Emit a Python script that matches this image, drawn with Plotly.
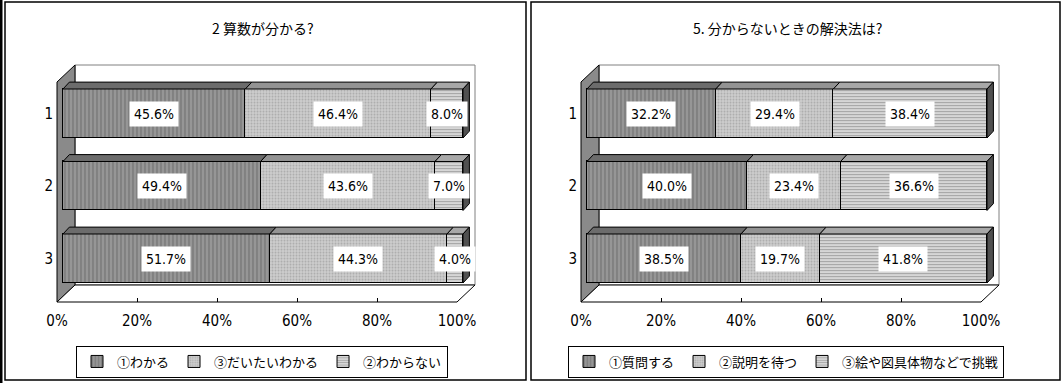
import plotly.graph_objects as go

# ---------------- data ----------------
categories = ["1", "2", "3"]

left_title = "2 算数が分かる?"
left_names = ["①わかる", "③だいたいわかる", "②わからない"]
left_wakaru = [45.6, 49.4, 51.7]
left_daitai = [46.4, 43.6, 44.3]
left_wakaranai = [8.0, 7.0, 4.0]

right_title = "5. 分からないときの解決法は?"
right_names = ["①質問する", "②説明を待つ", "③絵や図具体物などで挑戦"]
right_shitsumon = [32.2, 40.0, 38.5]
right_setsumei = [29.4, 23.4, 19.7]
right_e = [38.4, 36.6, 41.8]

tick_vals = [0, 20, 40, 60, 80, 100]
tick_text = ["0%", "20%", "40%", "60%", "80%", "100%"]

# ---------------- styling ----------------
W, H = 1064, 383
JP = "Noto Sans CJK JP"
NUM = "Liberation Sans Narrow, DejaVu Sans Condensed, Roboto Condensed, Liberation Sans, Noto Sans CJK JP"

styles = [
    dict(bg="#969696", fg="#5a5a5a", shape="|", size=4, sol=0.35, top="#6c6c6c"),
    dict(bg="#cdcdcd", fg="#8a8a8a", shape=".", size=3, sol=0.35, top="#939393"),
    dict(bg="#d6d6d6", fg="#707070", shape="-", size=3, sol=0.35, top="#a8a8a8"),
]
side_color = "#505050"

def px(x):
    return x / W

def py(y):
    return 1 - y / H

Y_RANGE = [3.75, 0.25]
y_dom = [py(77.25 + (3.75 - 0.5) * 72.5), py(77.25 - (0.5 - 0.25) * 72.5)]
BAR_W = 0.676
DX, DY = 1.6, 0.095
X_RANGE = [-2, 104]

fig = go.Figure()

panels = [
    dict(xa="x", ya="y", xt="x3", yt="y3", x0=63, legend="legend",
         title=left_title, names=left_names,
         series=[left_wakaru, left_daitai, left_wakaranai], cx=263),
    dict(xa="x2", ya="y2", xt="x4", yt="y4", x0=587, legend="legend2",
         title=right_title, names=right_names,
         series=[right_shitsumon, right_setsumei, right_e], cx=787),
]

shapes = []
annotations = []
ycat = [1, 2, 3]

for p in panels:
    xa, ya = p["xa"], p["ya"]
    left_px = p["x0"] + X_RANGE[0] * 4
    right_px = p["x0"] + X_RANGE[1] * 4
    sfx = xa[1:]
    fig.update_layout(**{
        f"xaxis{sfx}": dict(domain=[px(left_px), px(right_px)], range=X_RANGE,
                            visible=False, anchor=ya, fixedrange=True),
        f"yaxis{sfx}": dict(domain=y_dom, range=Y_RANGE, anchor=xa,
                            tickvals=ycat, ticktext=categories,
                            showgrid=False, zeroline=False, showline=False,
                            ticks="", tickfont=dict(family=NUM, size=15, color="black"),
                            ticklabelstandoff=1, fixedrange=True, automargin=False),
    })

    def dxp(pxv):
        return (pxv - p["x0"]) / 4.0

    def dyp(pyv):
        return 0.5 + (pyv - 77.25) / 72.5

    fx0, fx1 = dxp(p["x0"] - 6), dxp(p["x0"] + 394)
    bx0, bx1 = dxp(p["x0"] + 12), dxp(p["x0"] + 412)
    t_front, t_back = dyp(82), dyp(65)
    b_front, b_back = dyp(302), dyp(285)
    shapes.append(dict(type="rect", xref=xa, yref=ya, x0=bx0, x1=bx1, y0=t_back, y1=b_back,
                       fillcolor="white", line=dict(color="#808080", width=1), layer="below"))
    shapes.append(dict(type="path", xref=xa, yref=ya,
                       path=f"M{fx0},{t_front} L{bx0},{t_back} L{bx0},{b_back} L{fx0},{b_front} Z",
                       fillcolor="#8a8a8a", line=dict(color="black", width=1), layer="below"))
    shapes.append(dict(type="path", xref=xa, yref=ya,
                       path=f"M{fx0},{b_front} L{fx1},{b_front} L{bx1},{b_back} L{bx0},{b_back} Z",
                       fillcolor="white", line=dict(color="black", width=1), layer="below"))

    for i, (name, vals) in enumerate(zip(p["names"], p["series"])):
        s = styles[i]
        fig.add_trace(go.Bar(
            x=vals, y=ycat, orientation="h", name=name, width=BAR_W,
            xaxis=xa, yaxis=ya, legend=p["legend"],
            marker=dict(color=s["bg"], line=dict(color="black", width=1),
                        pattern=dict(shape=s["shape"], bgcolor=s["bg"], fgcolor=s["fg"],
                                     size=s["size"], solidity=s["sol"], fillmode="overlay")),
            hoverinfo="skip",
        ))

    for j, yc in enumerate(ycat):
        top = yc - BAR_W / 2
        bot = yc + BAR_W / 2
        start = 0.0
        for i, vals in enumerate(p["series"]):
            v = vals[j]
            end = start + v
            shapes.append(dict(type="path", xref=xa, yref=ya,
                               path=f"M{start},{top} L{end},{top} L{end + DX},{top - DY} L{start + DX},{top - DY} Z",
                               fillcolor=styles[i]["top"], line=dict(color="black", width=1)))
            annotations.append(dict(xref=xa, yref=ya, x=start + v / 2, y=yc,
                                    xanchor="center", yanchor="middle",
                                    text=f"{v:.1f}%", showarrow=False, bgcolor="white",
                                    borderpad=4, font=dict(family=NUM, size=14, color="black")))
            start = end
        shapes.append(dict(type="path", xref=xa, yref=ya,
                           path=f"M{start},{top} L{start + DX},{top - DY} L{start + DX},{bot - DY} L{start},{bot} Z",
                           fillcolor=side_color, line=dict(color="black", width=1)))

    tsf = p["xt"][1:]
    fig.add_trace(go.Scatter(x=[0, 100], y=[0, 0], xaxis=p["xt"], yaxis=p["yt"], mode="markers",
                             marker=dict(opacity=0), showlegend=False, hoverinfo="skip"))
    fig.update_layout(**{
        f"xaxis{tsf}": dict(domain=[px(p["x0"] - 6), px(p["x0"] + 394)], range=[0, 100],
                            anchor="free", position=py(302), side="bottom",
                            tickvals=tick_vals, ticktext=tick_text, ticks="inside",
                            ticklen=4, tickcolor="black", showgrid=False, zeroline=False,
                            showline=False, ticklabelstandoff=8, automargin=False,
                            tickfont=dict(family=NUM, size=15, color="black"), fixedrange=True),
        f"yaxis{tsf}": dict(domain=[0, 1], visible=False, anchor=p["xt"], fixedrange=True),
    })

    annotations.append(dict(xref="paper", yref="paper", x=px(p["cx"]), y=py(28),
                            xanchor="center", yanchor="middle", text=p["title"],
                            showarrow=False, font=dict(family=JP, size=14, color="black")))

shapes.append(dict(type="rect", xref="paper", yref="paper", x0=px(5), x1=px(526), y0=py(380), y1=py(2),
                   line=dict(color="black", width=1.5), fillcolor="rgba(0,0,0,0)"))
shapes.append(dict(type="rect", xref="paper", yref="paper", x0=px(531), x1=px(1060), y0=py(380), y1=py(2),
                   line=dict(color="black", width=1.5), fillcolor="rgba(0,0,0,0)"))
shapes.append(dict(type="rect", xref="paper", yref="paper", x0=0, x1=px(2.5), y0=py(383), y1=1,
                   line=dict(width=0), fillcolor="black"))

legend_common = dict(orientation="h", xanchor="center", yanchor="middle", y=py(361.5),
                     bordercolor="black", borderwidth=1, bgcolor="white",
                     font=dict(family=JP, size=13, color="black"),
                     itemwidth=30, tracegroupgap=0, traceorder="normal")

fig.update_layout(
    width=W, height=H, autosize=False,
    margin=dict(l=0, r=0, t=0, b=0, pad=0, autoexpand=False),
    paper_bgcolor="white", plot_bgcolor="rgba(0,0,0,0)",
    barmode="stack", bargap=0,
    shapes=shapes, annotations=annotations,
    legend=dict(x=px(262), **legend_common),
    legend2=dict(x=px(786), **legend_common),
    showlegend=True,
)

fig.write_html(
    "out.html",
    config={"displayModeBar": False, "responsive": False},
    post_script="document.body.style.margin='0';document.body.style.padding='0';document.body.style.overflow='hidden';",
)
